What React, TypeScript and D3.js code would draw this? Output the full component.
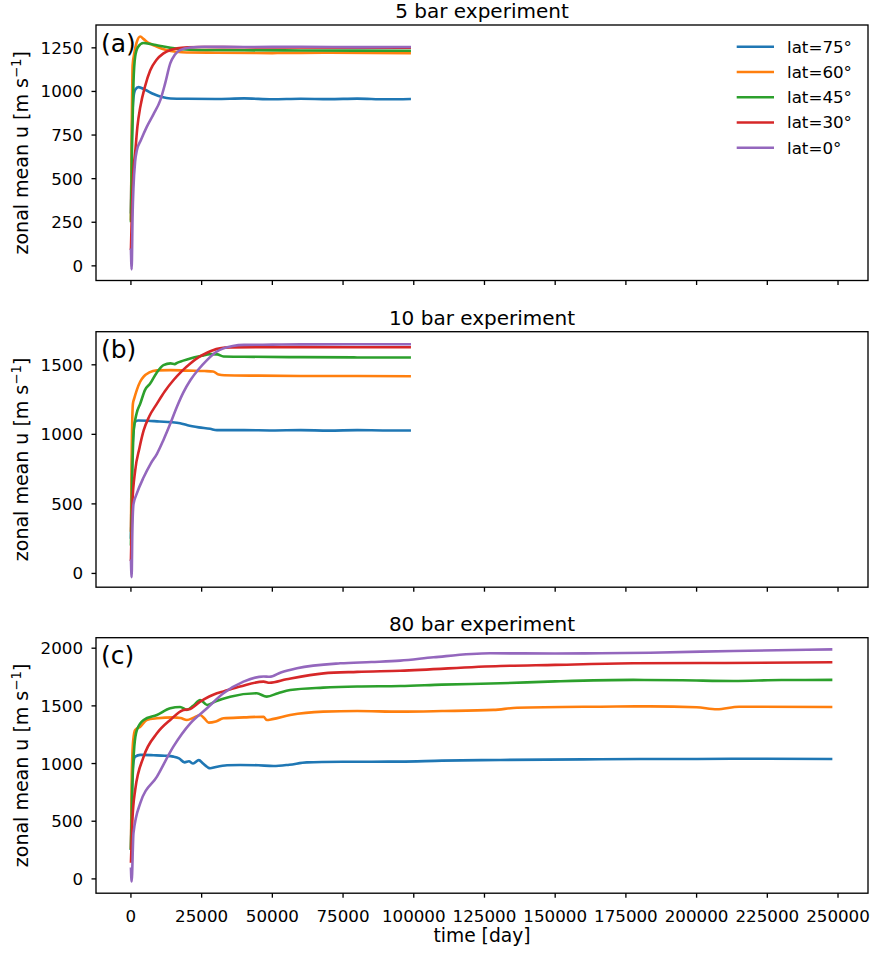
import React from "react";
import * as d3 from "d3";

type Pt = [number, number];

// ---------- DATA ----------
const seriesLabels = ["lat=75°", "lat=60°", "lat=45°", "lat=30°", "lat=0°"];
const seriesColors = ["#1f77b4", "#ff7f0e", "#2ca02c", "#d62728", "#9467bd"];
const panelTitles = ["5 bar experiment", "10 bar experiment", "80 bar experiment"];
const panelTags = ["(a)", "(b)", "(c)"];
const xTicks = [0, 25000, 50000, 75000, 100000, 125000, 150000, 175000, 200000, 225000, 250000];
const yTicksA = [0, 250, 500, 750, 1000, 1250];
const yTicksB = [0, 500, 1000, 1500];
const yTicksC = [0, 500, 1000, 1500, 2000];

// 5 bar experiment
const a75: Pt[] = [[0,300],[300,700],[800,950],[1500,1010],[2700,1025],[5000,1010],[8000,985],[11000,968],[14000,960],[20000,958],[30000,957],[40000,960],[50000,955],[60000,958],[70000,956],[80000,959],[90000,955],[99000,957]];
const a60: Pt[] = [[0,260],[300,800],[600,1150],[1200,1220],[2000,1280],[3300,1315],[4500,1300],[6000,1280],[8000,1265],[11000,1245],[14000,1232],[18000,1225],[30000,1222],[50000,1220],[70000,1222],[99000,1220]];
const a45: Pt[] = [[0,250],[400,700],[900,1050],[1500,1200],[2500,1255],[4400,1278],[7000,1272],[10000,1262],[14000,1250],[18000,1242],[24000,1238],[40000,1236],[60000,1235],[80000,1234],[99000,1233]];
const a30: Pt[] = [[0,90],[400,350],[900,550],[1500,650],[2300,800],[3300,910],[5000,1030],[6800,1120],[9000,1180],[11500,1218],[14000,1238],[16300,1247],[20000,1253],[25000,1255],[40000,1253],[60000,1252],[99000,1251]];
const a0: Pt[] = [[0,100],[250,-20],[600,300],[900,450],[1500,600],[2100,663],[3500,720],[5600,797],[8000,870],[10400,950],[12100,1046],[13900,1161],[15500,1210],[17400,1237],[21000,1252],[26000,1256],[40000,1255],[60000,1256],[80000,1254],[99000,1255]];

// 10 bar experiment
const b75: Pt[] = [[0,250],[300,700],[800,1000],[1500,1090],[2500,1100],[6000,1098],[10000,1092],[14000,1088],[17400,1080],[20000,1065],[24000,1050],[28000,1040],[30400,1030],[40000,1030],[50000,1028],[60000,1030],[70000,1027],[80000,1030],[90000,1028],[99000,1028]];
const b60: Pt[] = [[0,300],[300,900],[700,1220],[1200,1260],[2100,1320],[3300,1380],[4500,1415],[6500,1445],[9200,1460],[14000,1462],[20000,1458],[26000,1455],[29000,1452],[31000,1430],[33000,1425],[45000,1422],[60000,1420],[80000,1420],[99000,1418]];
const b45: Pt[] = [[0,200],[400,650],[1000,1030],[2000,1150],[3300,1221],[5000,1320],[6800,1365],[9000,1440],[11500,1498],[14000,1510],[15500,1505],[16300,1514],[18500,1530],[21000,1546],[25000,1565],[28000,1577],[30500,1575],[32700,1560],[40000,1558],[60000,1555],[80000,1553],[99000,1552]];
const b30: Pt[] = [[0,90],[500,500],[1500,739],[3000,900],[4500,1028],[6500,1130],[9200,1221],[12000,1310],[15000,1389],[18000,1455],[21000,1510],[24000,1555],[26900,1587],[29000,1605],[31500,1618],[35000,1625],[45000,1627],[60000,1627],[80000,1626],[99000,1626]];
const b0: Pt[] = [[0,100],[250,-27],[500,300],[900,498],[2000,570],[4500,691],[7000,790],[9200,860],[11500,960],[13900,1076],[16300,1200],[18500,1300],[21000,1389],[24000,1470],[26900,1534],[30000,1590],[32700,1618],[36000,1635],[40000,1643],[50000,1645],[60000,1647],[80000,1648],[99000,1648]];

// 80 bar experiment
const c75: Pt[] = [[0,250],[300,700],[800,1000],[1500,1060],[3300,1075],[8000,1072],[12000,1068],[15000,1060],[17000,1045],[19000,1010],[20500,1020],[22000,1000],[24000,1030],[25500,1000],[27000,970],[28000,959],[30000,970],[34000,985],[38600,988],[45000,985],[50400,979],[56000,990],[62200,1010],[75000,1015],[95200,1017],[110000,1025],[130600,1031],[160000,1036],[180000,1040],[200000,1040],[225000,1042],[248000,1040]];
const c60: Pt[] = [[0,260],[300,900],[800,1200],[1500,1291],[3300,1320],[5600,1378],[9200,1392],[15000,1400],[17500,1395],[19800,1378],[22000,1395],[24500,1421],[26000,1390],[27500,1355],[30000,1365],[32700,1392],[40000,1400],[46900,1406],[48000,1378],[50000,1385],[56300,1421],[68000,1450],[80000,1455],[95200,1450],[110000,1455],[128200,1465],[136500,1484],[166000,1493],[183600,1496],[200000,1488],[207200,1471],[215000,1493],[248000,1490]];
const c45: Pt[] = [[0,250],[500,800],[1200,1150],[2100,1291],[4500,1378],[9200,1421],[13900,1479],[17400,1490],[19800,1465],[22000,1500],[24500,1551],[26900,1508],[30000,1540],[35100,1580],[44500,1609],[48000,1580],[52000,1610],[56300,1638],[68000,1658],[80000,1668],[95200,1672],[110000,1684],[130600,1696],[150000,1712],[177600,1725],[195000,1722],[213000,1716],[230000,1724],[248000,1725]];
const c30: Pt[] = [[0,140],[500,500],[1500,771],[4500,1060],[9200,1262],[13900,1378],[18600,1465],[20500,1470],[24500,1537],[30400,1609],[32700,1625],[38600,1667],[46900,1710],[49000,1700],[55000,1730],[68100,1782],[80000,1795],[95200,1805],[130600,1846],[150000,1855],[177600,1869],[210000,1872],[248000,1878]];
const c0: Pt[] = [[0,100],[250,-23],[900,396],[3300,656],[9200,887],[15000,1147],[21000,1349],[26900,1479],[32700,1609],[39800,1710],[46900,1755],[49000,1752],[53000,1790],[58700,1826],[74000,1869],[85000,1880],[95200,1892],[107000,1921],[127000,1956],[150000,1954],[166000,1956],[183600,1961],[213000,1976],[248000,1990]];

// ---------- LAYOUT ----------
const W = 873, H = 954;
const left = 96, right = 868;
const panelTops = [25, 331.7, 637.7];
const panelH = 255.5;
const yDomains: [number, number][] = [[-84, 1381], [-99, 1738], [-124, 2091]];
const font = "DejaVu Sans, Liberation Sans, sans-serif";

const panels = [
  { series: [a75, a60, a45, a30, a0], ticks: yTicksA },
  { series: [b75, b60, b45, b30, b0], ticks: yTicksB },
  { series: [c75, c60, c45, c30, c0], ticks: yTicksC },
];

const x = d3.scaleLinear().domain([-12350, 260600]).range([left, right]);

export default function App() {
  return (
    <svg width={W} height={H} style={{ position: "absolute", left: 0, top: 0, background: "#fff" }} fontFamily={font}>
      {panels.map((p, i) => {
        const top = panelTops[i];
        const bottom = top + panelH;
        const y = d3.scaleLinear().domain(yDomains[i]).range([bottom, top]);
        const line = d3.line<Pt>().x(d => x(d[0])).y(d => y(d[1])).curve(d3.curveMonotoneX);
        const cy = (top + bottom) / 2;
        return (
          <g key={i}>
            <defs>
              <clipPath id={`clip${i}`}>
                <rect x={left} y={top} width={right - left} height={panelH} />
              </clipPath>
            </defs>
            <g clipPath={`url(#clip${i})`}>
              {p.series.map((s, k) => (
                <path key={k} d={line(s) || ""} fill="none" stroke={seriesColors[k]} strokeWidth={2.6} strokeLinejoin="round" strokeLinecap="butt" />
              ))}
            </g>
            <rect x={left} y={top} width={right - left} height={panelH} fill="none" stroke="#000" strokeWidth={1.33} />
            {p.ticks.map(t => (
              <g key={t}>
                <line x1={left - 4.5} x2={left} y1={y(t)} y2={y(t)} stroke="#000" strokeWidth={1.33} />
                <text x={83} y={y(t)} textAnchor="end" dominantBaseline="central" fontSize={16.7} fill="#000">{t}</text>
              </g>
            ))}
            {xTicks.map(t => (
              <g key={t}>
                <line x1={x(t)} x2={x(t)} y1={bottom} y2={bottom + 4.5} stroke="#000" strokeWidth={1.33} />
                {i === 2 && (
                  <text x={x(t)} y={922} textAnchor="middle" fontSize={16.7} fill="#000">{t}</text>
                )}
              </g>
            ))}
            <text x={(left + right) / 2} y={top - 6.7} textAnchor="middle" fontSize={20} fill="#000">{panelTitles[i]}</text>
            <text x={101} y={top + 26.5} fontSize={25} fill="#000">{panelTags[i]}</text>
            <text transform={`translate(28,${cy}) rotate(-90)`} textAnchor="middle" fontSize={19} fill="#000">
              zonal mean u [m s<tspan dy={-7.5} fontSize={13.3}>−1</tspan><tspan dy={7.5}>]</tspan>
            </text>
          </g>
        );
      })}
      <text x={(left + right) / 2} y={942} textAnchor="middle" fontSize={18.7} fill="#000">time [day]</text>
      {seriesLabels.map((lab, k) => {
        const ly = 46.7 + k * 25.25;
        return (
          <g key={lab}>
            <line x1={736.7} x2={774} y1={ly} y2={ly} stroke={seriesColors[k]} strokeWidth={2.6} />
            <text x={787} y={ly} dominantBaseline="central" fontSize={16.7} fill="#000">{lab}</text>
          </g>
        );
      })}
    </svg>
  );
}
